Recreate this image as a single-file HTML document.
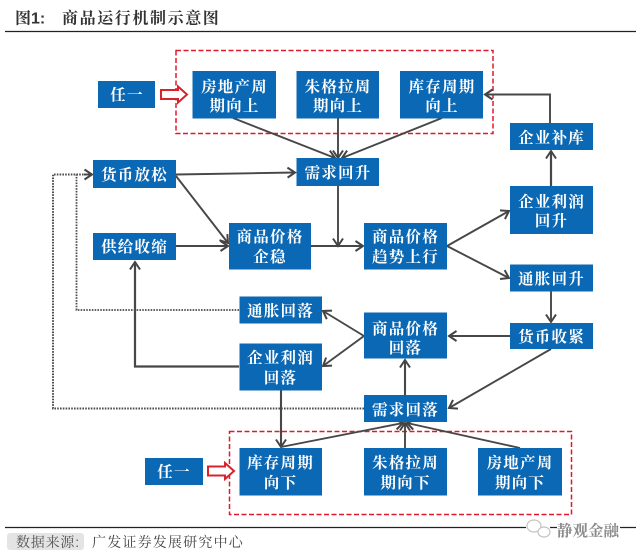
<!DOCTYPE html>
<html lang="zh"><head><meta charset="utf-8">
<style>
html,body{margin:0;padding:0;background:#fff;}
svg{display:block;filter:blur(.3px);}
text{font-family:"Liberation Sans","Noto Serif CJK SC",serif;}
.b{fill:#0b68b4;}
.t{fill:#fff;font-size:15.5px;font-weight:700;text-anchor:middle;letter-spacing:1.2px;}
.l{fill:none;stroke:#474747;stroke-width:1.9;}
.d{fill:none;stroke:#4d4d4d;stroke-width:2;stroke-dasharray:1.6 1.2;}
.r{fill:none;stroke:#e0182d;stroke-width:1.5;stroke-dasharray:5 2.5;}
.a{fill:#fff;stroke:#d8232a;stroke-width:2;}
</style></head><body>
<svg width="640" height="557" viewBox="0 0 640 557" xmlns="http://www.w3.org/2000/svg">
<defs>
<marker id="m" markerUnits="userSpaceOnUse" markerWidth="14" markerHeight="14" refX="9" refY="6" orient="auto">
<path d="M1.500 1 L9 6 L1.500 11" fill="none" stroke="#444" stroke-width="2"/>
</marker>
</defs>
<rect width="640" height="557" fill="#fff"/>
<text x="15" y="23.500" font-size="16" font-weight="700" fill="#333">图1:</text>
<text x="62" y="23.500" font-size="16" font-weight="700" fill="#333" letter-spacing="1.600">商品运行机制示意图</text>
<line x1="5" y1="31.500" x2="636" y2="31.500" stroke="#222" stroke-width="1.200"/>
<line x1="5" y1="527.500" x2="636" y2="527.500" stroke="#222" stroke-width="1.200"/>

<rect class="r" x="176" y="50.500" width="317" height="83"/>
<rect class="r" x="229.500" y="431.500" width="342" height="83"/>

<g>
<path class="l" d="M233 118 L335 158" marker-end="url(#m)"/>
<path class="l" d="M338 118 L338 158" marker-end="url(#m)"/>
<path class="l" d="M442 118 L342 158" marker-end="url(#m)"/>
<path class="l" d="M176 174.500 L295 172.500" marker-end="url(#m)"/>
<path class="l" d="M176 176 L228 243" marker-end="url(#m)"/>
<path class="l" d="M176 246 L228 246" marker-end="url(#m)"/>
<path class="l" d="M311 246 L363 246" marker-end="url(#m)"/>
<path class="l" d="M338 186 L338 246" marker-end="url(#m)"/>
<path class="l" d="M447 246 L509 211" marker-end="url(#m)"/>
<path class="l" d="M447 246 L509 278" marker-end="url(#m)"/>
<path class="l" d="M551 186 L551 151" marker-end="url(#m)" style="stroke-width:2.200"/>
<path class="l" d="M550 123 L550 94.500 L485 94.500" marker-end="url(#m)"/>
<path class="l" d="M551 291 L551 322" marker-end="url(#m)"/>
<path class="l" d="M510 336 L449 336" marker-end="url(#m)"/>
<path class="l" d="M551 349 L449 408" marker-end="url(#m)"/>
<path class="l" d="M405 395 L405 360" marker-end="url(#m)" style="stroke-width:2.100"/>
<path class="l" d="M364 336 L323 311" marker-end="url(#m)"/>
<path class="l" d="M364 336 L323 366" marker-end="url(#m)"/>
<path class="l" d="M239 366.500 L135 366.500 L135 262" marker-end="url(#m)" style="stroke-width:2.200"/>
<path class="l" d="M281 390 L281 447" marker-end="url(#m)" style="stroke-width:2.100"/>
<path class="l" d="M281 447 L403 423" marker-end="url(#m)"/>
<path class="l" d="M405 448 L405 423" marker-end="url(#m)"/>
<path class="l" d="M520 448 L407 423" marker-end="url(#m)"/>
<path class="d" d="M239 310 L76.500 310 L76.500 174.500" style="stroke-width:1.800"/>
<path class="d" d="M364 408.500 L53 408.500 L53 174.500 L92 174.500"/>
<path class="l" d="M84 174.500 L92 174.500" marker-end="url(#m)"/>
</g>

<g>
<rect class="b" x="98" y="81" width="57" height="27"/>
<rect class="b" x="192.500" y="71" width="83.500" height="47.500"/>
<rect class="b" x="296.500" y="71" width="82.500" height="47.500"/>
<rect class="b" x="400" y="71" width="83" height="47.500"/>
<rect class="b" x="93" y="160" width="83" height="28"/>
<rect class="b" x="296.500" y="158" width="82.500" height="28"/>
<rect class="b" x="93" y="233" width="83" height="27"/>
<rect class="b" x="229" y="223" width="82" height="46.500"/>
<rect class="b" x="364" y="223" width="83" height="46.500"/>
<rect class="b" x="510" y="123" width="83" height="27"/>
<rect class="b" x="510" y="186" width="83" height="48"/>
<rect class="b" x="510" y="264.500" width="83" height="27"/>
<rect class="b" x="510" y="323" width="83" height="26"/>
<rect class="b" x="364" y="312.500" width="83" height="46"/>
<rect class="b" x="364" y="395" width="83" height="27"/>
<rect class="b" x="239.500" y="296.500" width="82.500" height="27"/>
<rect class="b" x="239.500" y="343.500" width="82.500" height="47"/>
<rect class="b" x="239.500" y="448" width="82.500" height="47.500"/>
<rect class="b" x="364" y="448" width="83" height="47.500"/>
<rect class="b" x="478" y="448" width="84" height="47.500"/>
<rect class="b" x="145" y="458" width="58" height="27"/>
</g>

<path class="a" d="M161 90 H178 V86.500 L187 94.500 L178 102.500 V99 H161 Z"/>
<path class="a" d="M208 466.500 H225 V463 L234 471 L225 479 V475.500 H208 Z"/>

<text class="t" x="127" y="100">任一</text>
<text class="t" x="234.500" y="92">房地产周</text><text class="t" x="234.500" y="111">期向上</text>
<text class="t" x="338" y="92">朱格拉周</text><text class="t" x="338" y="111">期向上</text>
<text class="t" x="442" y="92">库存周期</text><text class="t" x="442" y="111">向上</text>
<text class="t" x="134.500" y="180">货币放松</text>
<text class="t" x="338" y="178">需求回升</text>
<text class="t" x="134.500" y="252">供给收缩</text>
<text class="t" x="270" y="242">商品价格</text><text class="t" x="270" y="262">企稳</text>
<text class="t" x="405.500" y="242">商品价格</text><text class="t" x="405.500" y="262">趋势上行</text>
<text class="t" x="551.500" y="143">企业补库</text>
<text class="t" x="551.500" y="207">企业利润</text><text class="t" x="551.500" y="226">回升</text>
<text class="t" x="551.500" y="284">通胀回升</text>
<text class="t" x="551.500" y="342">货币收紧</text>
<text class="t" x="405.500" y="334">商品价格</text><text class="t" x="405.500" y="353">回落</text>
<text class="t" x="405.500" y="415">需求回落</text>
<text class="t" x="280.500" y="316">通胀回落</text>
<text class="t" x="280.500" y="363">企业利润</text><text class="t" x="280.500" y="383">回落</text>
<text class="t" x="280.500" y="468">库存周期</text><text class="t" x="280.500" y="488">向下</text>
<text class="t" x="405.500" y="468">朱格拉周</text><text class="t" x="405.500" y="488">期向下</text>
<text class="t" x="520" y="468">房地产周</text><text class="t" x="520" y="488">期向下</text>
<text class="t" x="174" y="477">任一</text>

<rect x="7" y="533" width="77" height="17" rx="3" fill="#e4e4e4"/>
<text x="16" y="547" font-size="14" fill="#555" letter-spacing="0.800">数据来源:</text>
<text x="92" y="547" font-size="14" fill="#444" letter-spacing="1.200">广发证券发展研究中心</text>

<rect x="526" y="518" width="24" height="22" fill="#fff"/>
<ellipse cx="534" cy="526" rx="7" ry="6" fill="#fff" stroke="#c4c4c4" stroke-width="1.200"/>
<ellipse cx="544" cy="532" rx="6" ry="5" fill="#fff" stroke="#c4c4c4" stroke-width="1.200"/>
<rect x="557" y="521" width="63" height="18" fill="#fff"/>
<text x="557" y="536" font-size="15.500" font-weight="700" fill="#8a8a8a">静观金融</text>
</svg>
</body></html>
